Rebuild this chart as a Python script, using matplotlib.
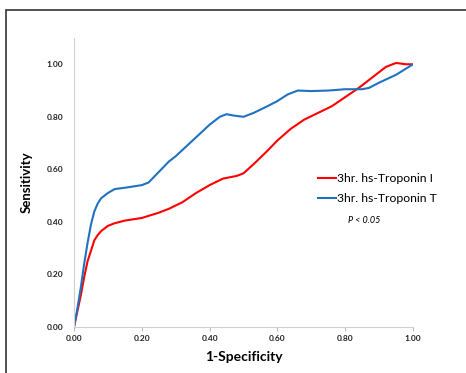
import matplotlib.pyplot as plt
from matplotlib.patches import Rectangle

# ROC curve points
fpr_i = [0.0, 0.01, 0.02, 0.03, 0.04, 0.05, 0.06, 0.07, 0.08, 0.10, 0.12, 0.15, 0.20, 0.25,
         0.28, 0.32, 0.36, 0.40, 0.44, 0.48, 0.50, 0.53, 0.57, 0.60, 0.64, 0.68, 0.72,
         0.76, 0.80, 0.84, 0.88, 0.92, 0.95, 0.98, 1.0]
tpr_i = [0.0, 0.06, 0.12, 0.19, 0.25, 0.29, 0.33, 0.35, 0.365, 0.385, 0.395, 0.405, 0.415, 0.435,
         0.45, 0.475, 0.51, 0.54, 0.565, 0.575, 0.585, 0.62, 0.67, 0.71, 0.755, 0.79, 0.815,
         0.84, 0.875, 0.91, 0.95, 0.99, 1.005, 1.0, 1.0]

fpr_t = [0.0, 0.01, 0.02, 0.03, 0.04, 0.05, 0.06, 0.07, 0.08, 0.10, 0.12, 0.15, 0.20, 0.22,
         0.25, 0.28, 0.30, 0.35, 0.40, 0.43, 0.45, 0.47, 0.50, 0.53, 0.57, 0.60, 0.63,
         0.66, 0.70, 0.75, 0.80, 0.85, 0.87, 0.90, 0.95, 1.0]
tpr_t = [0.0, 0.07, 0.15, 0.24, 0.32, 0.39, 0.44, 0.47, 0.49, 0.51, 0.525, 0.53, 0.54, 0.55,
         0.59, 0.63, 0.65, 0.71, 0.77, 0.80, 0.81, 0.805, 0.80, 0.815, 0.84, 0.86, 0.885,
         0.90, 0.898, 0.90, 0.905, 0.905, 0.91, 0.93, 0.96, 1.0]

ticks = [0.0, 0.2, 0.4, 0.6, 0.8, 1.0]
tick_labels = ['0.00', '0.20', '0.40', '0.60', '0.80', '1.00']

plt.rcParams['font.family'] = ['Lato', 'DejaVu Sans']

fig = plt.figure(figsize=(4.66, 3.73), dpi=100)
fig.patches.append(Rectangle((6 / 466, -0.05), 1.0, 1 - 10 / 373 + 0.05,
                             transform=fig.transFigure, fill=False,
                             edgecolor='#333333', linewidth=1.2))

ax = fig.add_axes([74 / 466, 1 - 327 / 373, 339 / 466, 289 / 373])
ax.plot(fpr_i, tpr_i, color='#FF0000', lw=1.5, label='3hr. hs-Troponin I')
ax.plot(fpr_t, tpr_t, color='#1F72C0', lw=1.5, label='3hr. hs-Troponin T')

ax.set_xlim(0, 1.0)
ax.set_ylim(0, 1.1)
ax.set_xticks(ticks)
ax.set_xticklabels(tick_labels)
ax.set_yticks(ticks)
ax.set_yticklabels(tick_labels)
ax.tick_params(axis='x', length=3, color='#BBBBBB', labelsize=6, pad=3)
ax.tick_params(axis='y', length=0, labelsize=6, pad=8)
for t in ax.get_xticklabels() + ax.get_yticklabels():
    t.set_fontweight('bold')
    t.set_color('#222222')
for s in ['top', 'right']:
    ax.spines[s].set_visible(False)
for s in ['left', 'bottom']:
    ax.spines[s].set_color('#D0D0D0')
    ax.spines[s].set_linewidth(0.8)

ax.set_xlabel('1-Specificity', fontsize=10, fontweight='bold', labelpad=6)
ax.set_ylabel('Sensitivity', fontsize=9.5, fontweight='bold', labelpad=10)

ax.legend(loc='upper left', bbox_to_anchor=(0.705, 0.55), frameon=False, fontsize=8.8,
          handlelength=1.5, handletextpad=0.1, labelspacing=0.75, borderaxespad=0)
ax.text(0.808, 0.37, 'P < 0.05', fontsize=6.5, style='italic', va='center',
        transform=ax.transAxes)

fig.savefig('out.png', dpi=100)
